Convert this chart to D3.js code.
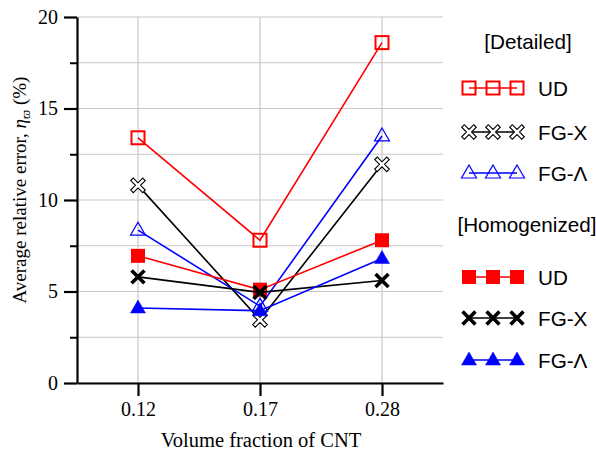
<!DOCTYPE html>
<html>
<head>
<meta charset="utf-8">
<script src="https://cdn.jsdelivr.net/npm/d3@7"></script>
<style>
    body { margin: 0; background: #fff; }
    svg { display: block; }
    .tick text { font-family: "Liberation Serif", "Times New Roman", serif; }
</style>
</head>
<body>
<div id="chartdiv"></div>
<script>
/*global d3 */

var categories = ["0.12", "0.17", "0.28"],
    yTicks = [0, 5, 10, 15, 20],
    yGrid = [0, 2.5, 5, 7.5, 10, 12.5, 15, 17.5, 20],
    detailedUD = [13.4, 7.8, 18.6],
    detailedFGX = [10.8, 3.45, 11.95],
    detailedFGL = [8.35, 4.2, 13.5],
    homogUD = [6.95, 5.1, 7.8],
    homogFGX = [5.8, 4.95, 5.6],
    homogFGL = [4.1, 3.95, 6.8];

(function () {
    "use strict";

    var W = 596, H = 453,
        plot = {left: 77, right: 443, top: 17, bottom: 383},
        legFont = 20.7,
        svg, x, y, series;

    svg = d3.select("#chartdiv").append("svg")
        .attr("width", W)
        .attr("height", H);

    x = d3.scalePoint().domain(categories)
        .range([plot.left, plot.right]).padding(0.5);
    y = d3.scaleLinear().domain([0, 20])
        .range([plot.bottom, plot.top]);

    //outlined x, a plus rotated 45 degrees
    function outlineX(r, w) {
        var pts = [[-w, -r], [w, -r], [w, -w], [r, -w], [r, w], [w, w],
                   [w, r], [-w, r], [-w, w], [-r, w], [-r, -w], [-w, -w]],
            c = Math.cos(Math.PI / 4), s = Math.sin(Math.PI / 4);
        return "M" + pts.map(function (p) {
            return [p[0] * c - p[1] * s, p[0] * s + p[1] * c].join(",");
        }).join("L") + "Z";
    }

    function drawMarker(g, kind, color, cx, cy) {
        var m;
        if(kind === "osq") {
            g.append("rect").attr("x", cx - 6.5).attr("y", cy - 6.5)
                .attr("width", 13).attr("height", 13)
                .attr("fill", "none").attr("stroke", color)
                .attr("stroke-width", 2); }
        else if(kind === "fsq") {
            g.append("rect").attr("x", cx - 7).attr("y", cy - 7)
                .attr("width", 14).attr("height", 14)
                .attr("fill", color); }
        else if(kind === "ox") {
            g.append("path").attr("d", outlineX(8.5, 1.8))
                .attr("transform", "translate(" + cx + "," + cy + ")")
                .attr("fill", "#fff").attr("stroke", color)
                .attr("stroke-width", 1.1); }
        else if(kind === "fx") {
            m = d3.symbol().type(d3.symbolX).size(110);
            g.append("path").attr("d", m())
                .attr("transform", "translate(" + cx + "," + cy + ")")
                .attr("fill", "none").attr("stroke", color)
                .attr("stroke-width", 3.6); }
        else if(kind === "otri" || kind === "ftri") {
            g.append("path")
                .attr("d", "M0,-8L7.5,5L-7.5,5Z")
                .attr("transform", "translate(" + cx + "," + cy + ")")
                .attr("fill", kind === "ftri" ? color : "#fff")
                .attr("fill-opacity", kind === "ftri" ? 1 : 0)
                .attr("stroke", color)
                .attr("stroke-width", kind === "ftri" ? 0.5 : 1.2); }
    }

    series = [
        {vals: detailedUD, color: "#ff0000", kind: "osq"},
        {vals: detailedFGX, color: "#000000", kind: "ox"},
        {vals: detailedFGL, color: "#0000ff", kind: "otri"},
        {vals: homogUD, color: "#ff0000", kind: "fsq"},
        {vals: homogFGX, color: "#000000", kind: "fx"},
        {vals: homogFGL, color: "#0000ff", kind: "ftri"}];

    //grid
    svg.append("g").selectAll("line").data(yGrid).join("line")
        .attr("x1", plot.left).attr("x2", plot.right)
        .attr("y1", function (d) { return y(d); })
        .attr("y2", function (d) { return y(d); })
        .attr("stroke", "#c8c8c8").attr("stroke-width", 1.2);
    svg.append("g").selectAll("line").data(categories).join("line")
        .attr("x1", function (d) { return x(d); })
        .attr("x2", function (d) { return x(d); })
        .attr("y1", plot.top).attr("y2", plot.bottom)
        .attr("stroke", "#c8c8c8").attr("stroke-width", 1.2);

    //axes
    svg.append("g")
        .attr("transform", "translate(" + plot.left + ",0)")
        .call(d3.axisLeft(y).tickValues(yTicks).tickSize(13)
            .tickSizeOuter(0).tickPadding(6))
        .call(function (g) {
            g.select(".domain").attr("stroke-width", 2.2);
            g.selectAll(".tick line").attr("stroke-width", 2.2);
            g.selectAll(".tick text").attr("font-size", 20)
                .attr("fill", "#000"); });
    svg.append("g")
        .attr("transform", "translate(" + plot.left + ",0)")
        .call(d3.axisLeft(y).tickValues([2.5, 7.5, 12.5, 17.5])
            .tickSize(7).tickSizeOuter(0).tickFormat(""))
        .call(function (g) {
            g.select(".domain").remove();
            g.selectAll(".tick line").attr("stroke-width", 2); });
    svg.append("g")
        .attr("transform", "translate(0," + plot.bottom + ")")
        .call(d3.axisBottom(x).tickSize(13).tickSizeOuter(0).tickPadding(6))
        .call(function (g) {
            g.select(".domain").attr("stroke-width", 2.2);
            g.selectAll(".tick line").attr("stroke-width", 2.2);
            g.selectAll(".tick text").attr("font-size", 20)
                .attr("fill", "#000"); });

    //axis titles
    svg.append("text")
        .attr("x", 261).attr("y", 447)
        .attr("text-anchor", "middle")
        .attr("font-family", "Liberation Serif, serif")
        .attr("font-size", 20.5)
        .text("Volume fraction of CNT");
    (function () {
        var t = svg.append("text")
            .attr("transform", "translate(26,190) rotate(-90)")
            .attr("text-anchor", "middle")
            .attr("font-family", "Liberation Serif, serif")
            .attr("font-size", 19);
        t.append("tspan").text("Average relative error, ");
        t.append("tspan").attr("font-style", "italic").text("η");
        t.append("tspan").attr("font-style", "italic")
            .attr("font-size", 13).attr("dy", 4).text("ϖ");
        t.append("tspan").attr("dy", -4).text(" (%)");
    }());

    //series lines then markers
    series.forEach(function (s) {
        var g = svg.append("g"),
            line = d3.line()
                .x(function (d, i) { return x(categories[i]); })
                .y(function (d) { return y(d); });
        g.append("path").datum(s.vals).attr("d", line)
            .attr("fill", "none").attr("stroke", s.color)
            .attr("stroke-width", 1.6);
        s.vals.forEach(function (v, i) {
            drawMarker(g, s.kind, s.color, x(categories[i]), y(v)); });
    });

    //legend
    function legendRow(s, label, ly) {
        var g = svg.append("g");
        g.append("line").attr("x1", 469).attr("x2", 517)
            .attr("y1", ly).attr("y2", ly)
            .attr("stroke", s.color).attr("stroke-width", 1.6);
        [469, 493, 517].forEach(function (lx) {
            drawMarker(g, s.kind, s.color, lx, ly); });
        g.append("text").attr("x", 538).attr("y", ly + 7.5)
            .attr("font-family", "Liberation Sans, Arial, sans-serif")
            .attr("font-size", legFont)
            .text(label);
    }
    svg.append("text").attr("x", 528).attr("y", 49)
        .attr("text-anchor", "middle")
        .attr("font-family", "Liberation Sans, Arial, sans-serif")
        .attr("font-size", legFont).text("[Detailed]");
    legendRow(series[0], "UD", 88);
    legendRow(series[1], "FG-X", 132);
    legendRow(series[2], "FG-Λ", 173);
    svg.append("text").attr("x", 527).attr("y", 232)
        .attr("text-anchor", "middle")
        .attr("font-family", "Liberation Sans, Arial, sans-serif")
        .attr("font-size", legFont).text("[Homogenized]");
    legendRow(series[3], "UD", 277);
    legendRow(series[4], "FG-X", 318);
    legendRow(series[5], "FG-Λ", 360);
}());
</script>
</body>
</html>
